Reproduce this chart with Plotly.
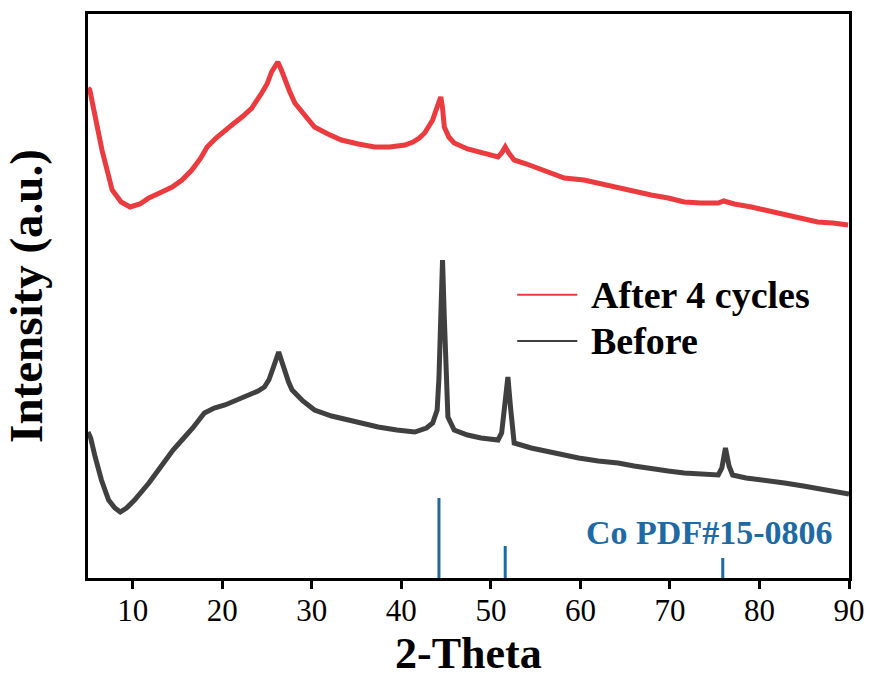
import plotly.graph_objects as go

# ---- data (2-theta in degrees, intensity in arbitrary units) ----
after_x = [5.0, 5.2, 6.56, 7.7, 8.7, 9.7, 10.8, 11.8, 13.0, 14.4, 15.5, 16.6, 17.6, 18.3, 19.3, 20.3,
           21.2, 22.2, 23.3, 24.4, 25.0, 25.5, 25.9, 26.2, 26.6, 27.0, 27.5, 28.1, 29.2, 30.3, 31.8,
           33.3, 35.2, 37.0, 38.7, 40.4, 41.3, 42.0, 42.6, 43.0, 43.5, 43.8, 44.1, 44.4, 44.6, 44.8,
           45.3, 45.9, 47.4, 48.9, 50.0, 50.8, 51.2, 51.6, 52.0, 52.6, 54.0, 55.3, 56.8, 58.2, 60.4,
           62.3, 64.2, 66.0, 67.9, 69.8, 71.6, 73.5, 75.4, 76.0, 77.2, 79.1, 81.0, 82.8, 84.6, 86.5,
           88.2, 89.9]
after_y = [490, 488, 428, 388, 376, 371, 374, 380, 385, 391, 398, 408, 420, 431, 440, 448,
           454, 461, 470, 485, 494, 506, 512, 516, 508, 498, 487, 475, 462, 451, 444,
           438, 434, 431, 431, 433, 436, 440, 445, 451, 458, 466, 474, 481, 470, 451,
           441, 435, 429, 425, 423, 421, 425, 431, 425, 418, 414, 410, 405, 400, 398,
           394, 390, 386, 383, 380, 376, 375, 375, 377, 374, 371, 367, 363, 360, 356,
           355, 353]

before_x = [5.0, 5.3, 5.8, 6.5, 7.3, 8.0, 8.6, 9.3, 10.2, 11.0, 11.8, 12.7, 13.6, 14.5, 15.5,
            16.7, 18.0, 19.1, 20.3, 21.6, 23.0, 24.0, 24.7, 25.2, 25.6, 26.0, 26.3, 26.7, 27.0,
            27.4, 27.8, 29.0, 30.3, 32.2, 34.1, 35.8, 37.4, 39.5, 41.5, 42.8, 43.5, 44.0, 44.2,
            44.4, 44.6, 44.8, 45.0, 45.2, 45.9, 47.4, 48.9, 50.0, 50.8, 51.2, 51.5, 51.9, 52.2,
            52.6, 54.5, 56.4, 58.1, 59.8, 62.0, 64.2, 66.0, 68.0, 69.8, 71.6, 73.5, 75.4, 75.8,
            76.2, 76.6, 77.0, 78.5, 80.7, 82.8, 84.9, 87.0, 89.4, 90.0]
before_y = [146, 140, 121, 98, 78, 70, 66, 70, 78, 86, 95, 106, 118, 128, 138,
            150, 165, 170, 173, 178, 183, 187, 191, 198, 208, 218, 226, 215, 205,
            196, 188, 177, 168, 162, 158, 154, 151, 148, 146, 150, 155, 168, 200,
            260, 318, 260, 200, 161, 148, 143, 140, 139, 138, 145, 165, 201, 170,
            135, 130, 126, 123, 120, 117, 115, 112, 109, 107, 105, 104, 103, 110,
            130, 112, 103, 100, 98, 95, 92, 89, 85, 84]

# reference pattern: Co PDF#15-0806 stick positions and relative heights
pdf_pos = [44.2, 51.6, 75.9]
pdf_height = [80, 32, 20]

x_ticks = [10, 20, 30, 40, 50, 60, 70, 80, 90]

RED = "#eb3b3f"
GREY = "#404040"
BLUE = "#1d6aa5"
FONT = "Liberation Serif"

fig = go.Figure()

fig.add_trace(go.Scatter(x=after_x, y=after_y, mode="lines", name="After 4 cycles",
                         line=dict(color=RED, width=5), showlegend=False))
fig.add_trace(go.Scatter(x=before_x, y=before_y, mode="lines", name="Before",
                         line=dict(color=GREY, width=5), showlegend=False))

stick_x, stick_y = [], []
for p, h in zip(pdf_pos, pdf_height):
    stick_x += [p, p, None]
    stick_y += [0, h, None]
fig.add_trace(go.Scatter(x=stick_x, y=stick_y, mode="lines", name="Co PDF#15-0806",
                         line=dict(color=BLUE, width=3), showlegend=False))

fig.add_annotation(x=74.4, y=46, xref="x", yref="y", text="<b>Co PDF#15-0806</b>",
                   showarrow=False, font=dict(family=FONT, size=34, color=BLUE),
                   xanchor="center", yanchor="middle")

# legend drawn as line samples + labels
legend_items = [("After 4 cycles", RED, 0.502), ("Before", GREY, 0.420)]
for label, col, yy in legend_items:
    fig.add_shape(type="line", xref="paper", yref="paper", x0=0.564, x1=0.643, y0=yy, y1=yy,
                  line=dict(color=col, width=2))
    fig.add_annotation(x=0.658, y=yy, xref="paper", yref="paper", text="<b>%s</b>" % label,
                       showarrow=False, font=dict(family=FONT, size=38, color="black"),
                       xanchor="left", yanchor="middle")

# x-axis title as an annotation for precise placement
fig.add_annotation(x=0.5, y=-0.134, xref="paper", yref="paper", text="<b>2-Theta</b>",
                   showarrow=False, font=dict(family=FONT, size=44, color="black"),
                   xanchor="center", yanchor="middle", borderpad=0)

fig.update_layout(
    width=871, height=677,
    margin=dict(l=88, r=22, t=14, b=99),
    paper_bgcolor="white", plot_bgcolor="white",
    font=dict(family=FONT, color="black"),
    xaxis=dict(range=[5, 90], tickvals=x_ticks, ticktext=[str(v) for v in x_ticks],
               automargin=False,
               showgrid=False, zeroline=False, showline=True, linecolor="black", linewidth=3,
               mirror=True, ticks="outside", ticklen=8, tickwidth=3, tickcolor="black",
               ticklabelstandoff=-5,
               tickfont=dict(family=FONT, size=31, color="black")),
    yaxis=dict(range=[0, 564], showticklabels=False, ticks="", showgrid=False, zeroline=False,
               automargin=False,
               showline=True, linecolor="black", linewidth=3, mirror=True,
               title=dict(text="<b>Intensity (a.u.)</b>",
                          font=dict(family=FONT, size=47, color="black"), standoff=30)),
)

fig.write_html("out.html")
